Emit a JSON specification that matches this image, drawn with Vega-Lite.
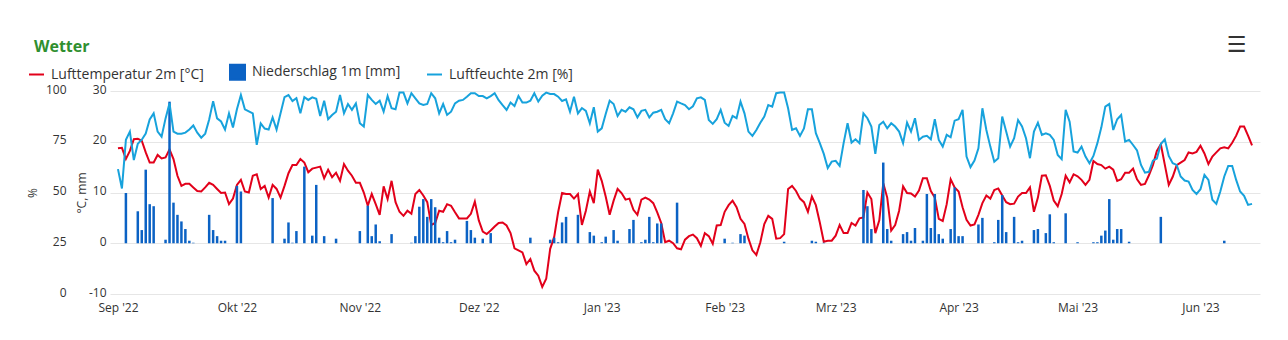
{
"$schema": "https://vega.github.io/schema/vega-lite/v6.json",
"width": 1150, "height": 203,
"autosize": {"type": "none"},
"padding": {"left": 110, "top": 91, "right": 28, "bottom": 46},
"background": "white",
"config": {"font": "Open Sans", "view": {"stroke": null}},
"title": {"text": "Wetter", "anchor": "start", "frame": "group", "dx": -76, "dy": 28, "offset": 6, "fontSize": 16, "fontWeight": "bold", "color": "#2f8f2f", "font": "Open Sans"},
"data": {"values": [
{"d":"2022-09-01","t":18.7,"h":61.5},{"d":"2022-09-02","t":18.8,"h":52},{"d":"2022-09-03","t":16.6,"h":76,"p":9.9},{"d":"2022-09-04","t":18.2,"h":80},{"d":"2022-09-05","t":20.5,"h":66},{"d":"2022-09-06","t":20.6,"h":74,"p":6.3},{"d":"2022-09-07","t":20.2,"h":76,"p":2.6},{"d":"2022-09-08","t":17.9,"h":79,"p":14.5},{"d":"2022-09-09","t":15.9,"h":86,"p":7.7},{"d":"2022-09-10","t":15.9,"h":89,"p":7.3},
{"d":"2022-09-11","t":17.4,"h":80},{"d":"2022-09-12","t":16.7,"h":77.5},{"d":"2022-09-13","t":16.9,"h":86.5,"p":0.7},{"d":"2022-09-14","t":18.5,"h":94,"p":27.9},{"d":"2022-09-15","t":16.6,"h":80,"p":8.0},{"d":"2022-09-16","t":13.3,"h":79,"p":5.6},{"d":"2022-09-17","t":11.3,"h":79,"p":4.3},{"d":"2022-09-18","t":11.7,"h":79.5,"p":2.8},{"d":"2022-09-19","t":11.7,"h":81,"p":0.5},{"d":"2022-09-20","t":11.0,"h":83,"p":0.1},
{"d":"2022-09-21","t":10.3,"h":79.5},{"d":"2022-09-22","t":10.2,"h":77},{"d":"2022-09-23","t":11.0,"h":79},{"d":"2022-09-24","t":11.9,"h":86,"p":5.6},{"d":"2022-09-25","t":11.5,"h":95,"p":2.6},{"d":"2022-09-26","t":10.7,"h":86.5,"p":1.4},{"d":"2022-09-27","t":9.9,"h":85,"p":0.5},{"d":"2022-09-28","t":10.0,"h":81,"p":0.5},{"d":"2022-09-29","t":7.7,"h":89},{"d":"2022-09-30","t":8.8,"h":82},
{"d":"2022-10-01","t":11.5,"h":91,"p":11.3},{"d":"2022-10-02","t":12.5,"h":98,"p":10.2},{"d":"2022-10-03","t":10.2,"h":91},{"d":"2022-10-04","t":10.0,"h":90},{"d":"2022-10-05","t":13.3,"h":89},{"d":"2022-10-06","t":13.6,"h":73.5},{"d":"2022-10-07","t":10.7,"h":84},{"d":"2022-10-08","t":11.3,"h":81.5},{"d":"2022-10-09","t":9.0,"h":81},{"d":"2022-10-10","t":11.5,"h":87,"p":8.9},
{"d":"2022-10-11","t":10.7,"h":81},{"d":"2022-10-12","t":9.0,"h":89},{"d":"2022-10-13","t":11.3,"h":97,"p":0.9},{"d":"2022-10-14","t":13.8,"h":98,"p":4.1},{"d":"2022-10-15","t":15.4,"h":95,"p":0.1},{"d":"2022-10-16","t":15.4,"h":96.5,"p":2.4},{"d":"2022-10-17","t":16.6,"h":89},{"d":"2022-10-18","t":15.9,"h":97,"p":15.1},{"d":"2022-10-19","t":14.0,"h":95.6},{"d":"2022-10-20","t":14.7,"h":96.9,"p":1.5},
{"d":"2022-10-21","t":14.9,"h":96.2,"p":11.5},{"d":"2022-10-22","t":15.1,"h":87.7},{"d":"2022-10-23","t":12.8,"h":95.2,"p":1.4},{"d":"2022-10-24","t":14.5,"h":86.1},{"d":"2022-10-25","t":13.0,"h":88.2},{"d":"2022-10-26","t":13.9,"h":89.8,"p":0.9},{"d":"2022-10-27","t":12.3,"h":98.0},{"d":"2022-10-28","t":15.6,"h":89.0},{"d":"2022-10-29","t":14.3,"h":93.6},{"d":"2022-10-30","t":13.3,"h":90.7},{"d":"2022-10-31","t":11.9,"h":93.9},
{"d":"2022-11-01","t":11.9,"h":84.1,"p":2.4},{"d":"2022-11-02","t":10.0,"h":82.5},{"d":"2022-11-03","t":7.4,"h":98.0,"p":7.4},{"d":"2022-11-04","t":9.7,"h":95.6,"p":1.4},{"d":"2022-11-05","t":7.7,"h":93.6,"p":3.7},{"d":"2022-11-06","t":5.6,"h":95.2,"p":0.4},{"d":"2022-11-07","t":11.2,"h":89.8},{"d":"2022-11-08","t":8.7,"h":97.5},{"d":"2022-11-09","t":12.3,"h":91.5,"p":1.8},{"d":"2022-11-10","t":8.1,"h":91.0},
{"d":"2022-11-11","t":6.2,"h":99.2},{"d":"2022-11-12","t":5.4,"h":99.2},{"d":"2022-11-13","t":6.4,"h":93.9},{"d":"2022-11-14","t":5.8,"h":98.9,"p":0.1},{"d":"2022-11-15","t":9.7,"h":96.4,"p":1.4},{"d":"2022-11-16","t":10.5,"h":93.9,"p":7.2},{"d":"2022-11-17","t":9.4,"h":93.1,"p":8.7},{"d":"2022-11-18","t":8.1,"h":93.6,"p":5.2},{"d":"2022-11-19","t":3.6,"h":98.9,"p":8.7},{"d":"2022-11-20","t":4.0,"h":96.4,"p":7.1},
{"d":"2022-11-21","t":6.4,"h":89.0,"p":1.1},{"d":"2022-11-22","t":6.2,"h":93.6,"p":0.2},{"d":"2022-11-23","t":7.7,"h":88.2,"p":2.4},{"d":"2022-11-24","t":7.4,"h":89.8,"p":0.2},{"d":"2022-11-25","t":6.1,"h":93.9,"p":0.7},{"d":"2022-11-26","t":4.9,"h":95.2},{"d":"2022-11-27","t":4.9,"h":95.6},{"d":"2022-11-28","t":4.9,"h":97.2,"p":4.4},{"d":"2022-11-29","t":5.8,"h":98.9,"p":2.6},{"d":"2022-11-30","t":8.2,"h":98.9,"p":1.1},
{"d":"2022-12-01","t":4.5,"h":97.5},{"d":"2022-12-02","t":2.3,"h":97.5,"p":0.9},{"d":"2022-12-03","t":1.8,"h":96.4},{"d":"2022-12-04","t":2.5,"h":97.5,"p":2.0},{"d":"2022-12-05","t":3.3,"h":98.9},{"d":"2022-12-06","t":4.0,"h":95.5},{"d":"2022-12-07","t":4.1,"h":93},{"d":"2022-12-08","t":3.5,"h":90.7},{"d":"2022-12-09","t":2.0,"h":94.3},{"d":"2022-12-10","t":-1.0,"h":92.6},
{"d":"2022-12-11","t":-1.4,"h":97.5},{"d":"2022-12-12","t":-1.8,"h":94.3},{"d":"2022-12-13","t":-4.1,"h":94.3},{"d":"2022-12-14","t":-3.1,"h":95.2,"p":1.1},{"d":"2022-12-15","t":-5.4,"h":98.9},{"d":"2022-12-16","t":-6.4,"h":94.8},{"d":"2022-12-17","t":-8.6,"h":97.7},{"d":"2022-12-18","t":-7.0,"h":99.2},{"d":"2022-12-19","t":-1.1,"h":98.5,"p":0.7},{"d":"2022-12-20","t":1.2,"h":98.5,"p":1.1},
{"d":"2022-12-21","t":6.1,"h":97.2,"p":0.2},{"d":"2022-12-22","t":9.9,"h":95.1,"p":4.1},{"d":"2022-12-23","t":9.7,"h":95.9,"p":5.2},{"d":"2022-12-24","t":9.7,"h":89.8},{"d":"2022-12-25","t":8.8,"h":97.2},{"d":"2022-12-26","t":9.7,"h":89.0,"p":5.6},{"d":"2022-12-27","t":3.6,"h":91.6},{"d":"2022-12-28","t":6.4,"h":90.2},{"d":"2022-12-29","t":10.2,"h":84.1,"p":2.2},{"d":"2022-12-30","t":7.9,"h":92.0,"p":1.5},{"d":"2022-12-31","t":14.5,"h":80.0},
{"d":"2023-01-01","t":12.3,"h":81.6,"p":0.2},{"d":"2023-01-02","t":9.2,"h":88.7,"p":1.3},{"d":"2023-01-03","t":5.6,"h":95.2},{"d":"2023-01-04","t":8.4,"h":93.6,"p":2.6},{"d":"2023-01-05","t":10.7,"h":87.7,"p":0.5},{"d":"2023-01-06","t":9.9,"h":90.7},{"d":"2023-01-07","t":8.6,"h":89.8},{"d":"2023-01-08","t":8.8,"h":92.0,"p":2.8},{"d":"2023-01-09","t":6.6,"h":91.0,"p":4.6},{"d":"2023-01-10","t":5.6,"h":87.0},
{"d":"2023-01-11","t":8.6,"h":90.2,"p":0.2},{"d":"2023-01-12","t":9.0,"h":90.7,"p":0.7},{"d":"2023-01-13","t":8.6,"h":87.0,"p":5.2},{"d":"2023-01-14","t":7.9,"h":89.3,"p":0.2},{"d":"2023-01-15","t":6.1,"h":89.8,"p":3.9},{"d":"2023-01-16","t":4.0,"h":90.7,"p":3.9},{"d":"2023-01-17","t":0.2,"h":86.1},{"d":"2023-01-18","t":0.5,"h":84.1},{"d":"2023-01-19","t":0.0,"h":89.0},{"d":"2023-01-20","t":-1.0,"h":94.8,"p":8.0},
{"d":"2023-01-21","t":-1.2,"h":93.9},{"d":"2023-01-22","t":0.7,"h":93.1},{"d":"2023-01-23","t":1.4,"h":91.0},{"d":"2023-01-24","t":1.7,"h":92.5},{"d":"2023-01-25","t":1.0,"h":96.4},{"d":"2023-01-26","t":-0.5,"h":96.9},{"d":"2023-01-27","t":2.0,"h":95.6},{"d":"2023-01-28","t":1.4,"h":85.7},{"d":"2023-01-29","t":-0.1,"h":83.8},{"d":"2023-01-30","t":3.5,"h":86.1},{"d":"2023-01-31","t":3.6,"h":90.7},
{"d":"2023-02-01","t":6.2,"h":84.4,"p":0.9},{"d":"2023-02-02","t":7.5,"h":82.8},{"d":"2023-02-03","t":8.4,"h":87.7,"p":0.1},{"d":"2023-02-04","t":7.1,"h":86.6},{"d":"2023-02-05","t":4.8,"h":94.8,"p":1.8},{"d":"2023-02-06","t":3.8,"h":89.0,"p":1.5},{"d":"2023-02-07","t":0.9,"h":80.0},{"d":"2023-02-08","t":-1.4,"h":77.9},{"d":"2023-02-09","t":-2.3,"h":80.8},{"d":"2023-02-10","t":0.2,"h":84.4},
{"d":"2023-02-11","t":3.8,"h":87.4},{"d":"2023-02-12","t":5.4,"h":93.1},{"d":"2023-02-13","t":4.8,"h":92.3},{"d":"2023-02-14","t":0.9,"h":98.9},{"d":"2023-02-15","t":1.0,"h":99.2},{"d":"2023-02-16","t":1.8,"h":99.2,"p":0.3},{"d":"2023-02-17","t":10.7,"h":91.5},{"d":"2023-02-18","t":11.3,"h":80.8},{"d":"2023-02-19","t":10.3,"h":81.6},{"d":"2023-02-20","t":8.8,"h":77.9},
{"d":"2023-02-21","t":8.1,"h":81.6},{"d":"2023-02-22","t":6.2,"h":91.0},{"d":"2023-02-23","t":9.2,"h":91.0,"p":0.5},{"d":"2023-02-24","t":7.5,"h":79.2,"p":0.3},{"d":"2023-02-25","t":4.1,"h":74.3},{"d":"2023-02-26","t":0.3,"h":69.0,"p":0.1},{"d":"2023-02-27","t":0.5,"h":62.0},{"d":"2023-02-28","t":0.5,"h":65.2},
{"d":"2023-03-01","t":1.5,"h":65.6},{"d":"2023-03-02","t":3.6,"h":63.1},{"d":"2023-03-03","t":2.0,"h":74.3},{"d":"2023-03-04","t":2.0,"h":84.1},{"d":"2023-03-05","t":4.0,"h":74.6},{"d":"2023-03-06","t":3.5,"h":76.2},{"d":"2023-03-07","t":4.9,"h":74.3},{"d":"2023-03-08","t":5.1,"h":89.0,"p":10.5},{"d":"2023-03-09","t":10.0,"h":86.6,"p":7.3},{"d":"2023-03-10","t":8.7,"h":82.5,"p":2.8},
{"d":"2023-03-11","t":2.0,"h":69.0},{"d":"2023-03-12","t":4.5,"h":83.3},{"d":"2023-03-13","t":11.8,"h":84.9,"p":15.9},{"d":"2023-03-14","t":9.0,"h":81.6,"p":2.8},{"d":"2023-03-15","t":2.5,"h":84.1,"p":0.5},{"d":"2023-03-16","t":3.6,"h":82.5},{"d":"2023-03-17","t":6.4,"h":80.0},{"d":"2023-03-18","t":11.2,"h":74.3,"p":1.8},{"d":"2023-03-19","t":9.9,"h":84.4,"p":2.2},{"d":"2023-03-20","t":9.8,"h":80.0,"p":0.5},
{"d":"2023-03-21","t":9.2,"h":86.6,"p":3.0},{"d":"2023-03-22","t":10.4,"h":75.9},{"d":"2023-03-23","t":12.8,"h":77.5,"p":0.5},{"d":"2023-03-24","t":12.8,"h":77.9,"p":9.7},{"d":"2023-03-25","t":10.3,"h":76.2,"p":3.0},{"d":"2023-03-26","t":9.0,"h":86.1,"p":9.7},{"d":"2023-03-27","t":4.8,"h":75.9,"p":1.8},{"d":"2023-03-28","t":4.4,"h":72.6,"p":0.9},{"d":"2023-03-29","t":7.7,"h":78.4},{"d":"2023-03-30","t":12.6,"h":77.2,"p":2.8},{"d":"2023-03-31","t":11.0,"h":85.4,"p":11.0},
{"d":"2023-04-01","t":10.2,"h":86.1,"p":1.4},{"d":"2023-04-02","t":7.1,"h":90.7,"p":1.4},{"d":"2023-04-03","t":4.6,"h":67.7},{"d":"2023-04-04","t":3.5,"h":62.5},{"d":"2023-04-05","t":3.7,"h":65.7},{"d":"2023-04-06","t":5.6,"h":71.8,"p":3.7},{"d":"2023-04-07","t":7.9,"h":91.5,"p":5.0},{"d":"2023-04-08","t":9.4,"h":80.8},{"d":"2023-04-09","t":8.8,"h":72.6},{"d":"2023-04-10","t":10.5,"h":65.2,"p":0.2},
{"d":"2023-04-11","t":10.8,"h":66.9,"p":4.6},{"d":"2023-04-12","t":9.4,"h":87.4,"p":9.5},{"d":"2023-04-13","t":8.1,"h":80.0,"p":2.2},{"d":"2023-04-14","t":7.7,"h":72.6},{"d":"2023-04-15","t":7.8,"h":76.7,"p":5.2},{"d":"2023-04-16","t":9.2,"h":85.7,"p":0.2},{"d":"2023-04-17","t":9.9,"h":82.5,"p":0.5},{"d":"2023-04-18","t":9.9,"h":76.7},{"d":"2023-04-19","t":11.0,"h":66.9},{"d":"2023-04-20","t":6.2,"h":80.0,"p":2.6},
{"d":"2023-04-21","t":9.0,"h":84.4,"p":2.8},{"d":"2023-04-22","t":13.3,"h":78.4},{"d":"2023-04-23","t":13.4,"h":79.2,"p":2.0},{"d":"2023-04-24","t":11.3,"h":78.4,"p":5.7},{"d":"2023-04-25","t":8.4,"h":75.9,"p":0.2},{"d":"2023-04-26","t":7.3,"h":68.5},{"d":"2023-04-27","t":9.7,"h":66.4},{"d":"2023-04-28","t":13.3,"h":90.7,"p":5.9},{"d":"2023-04-29","t":12.0,"h":84.9},{"d":"2023-04-30","t":13.6,"h":70.2},
{"d":"2023-05-01","t":13.2,"h":69.7,"p":0.2},{"d":"2023-05-02","t":12.5,"h":72.6},{"d":"2023-05-03","t":11.5,"h":67.7},{"d":"2023-05-04","t":12.5,"h":64.4},{"d":"2023-05-05","t":16.2,"h":68.0,"p":0.2},{"d":"2023-05-06","t":15.6,"h":74.3,"p":0.2},{"d":"2023-05-07","t":15.4,"h":82.1,"p":1.5},{"d":"2023-05-08","t":14.7,"h":92.3,"p":2.5},{"d":"2023-05-09","t":15.1,"h":93.6,"p":8.7},{"d":"2023-05-10","t":14.5,"h":80.8,"p":0.7},
{"d":"2023-05-11","t":12.3,"h":86.1,"p":2.8},{"d":"2023-05-12","t":12.6,"h":88.2,"p":2.8},{"d":"2023-05-13","t":13.9,"h":75.1},{"d":"2023-05-14","t":13.9,"h":75.9,"p":0.3},{"d":"2023-05-15","t":14.7,"h":73.4},{"d":"2023-05-16","t":12.6,"h":70.7},{"d":"2023-05-17","t":11.5,"h":63.6},{"d":"2023-05-18","t":11.7,"h":59.8},{"d":"2023-05-19","t":13.4,"h":60.2},{"d":"2023-05-20","t":15.4,"h":65.7},
{"d":"2023-05-21","t":18.2,"h":66.7},{"d":"2023-05-22","t":19.5,"h":73.9,"p":5.2},{"d":"2023-05-23","t":15.5,"h":76.2},{"d":"2023-05-24","t":11.5,"h":68.0},{"d":"2023-05-25","t":13.1,"h":64.4},{"d":"2023-05-26","t":15.4,"h":63.6},{"d":"2023-05-27","t":15.9,"h":57.9},{"d":"2023-05-28","t":16.4,"h":55.9},{"d":"2023-05-29","t":17.9,"h":55.4},{"d":"2023-05-30","t":17.7,"h":51.3},{"d":"2023-05-31","t":18.0,"h":49.3},
{"d":"2023-06-01","t":19.2,"h":51.6},{"d":"2023-06-02","t":17.7,"h":58.7},{"d":"2023-06-03","t":15.6,"h":56.2},{"d":"2023-06-04","t":17.1,"h":46.4},{"d":"2023-06-05","t":17.9,"h":44.4},{"d":"2023-06-06","t":18.7,"h":50.5},{"d":"2023-06-07","t":18.9,"h":57.9,"p":0.5},{"d":"2023-06-08","t":18.7,"h":63.1},{"d":"2023-06-09","t":19.8,"h":63.1},{"d":"2023-06-10","t":21.2,"h":56.2},
{"d":"2023-06-11","t":23.0,"h":50.5},{"d":"2023-06-12","t":23.0,"h":48.4},{"d":"2023-06-13","t":21.2,"h":43.9},{"d":"2023-06-14","t":19.3,"h":44.4}
]},
"layer": [
 {"layer": [
  {"mark": {"type": "line", "strokeWidth": 2, "interpolate": "linear"},
   "encoding": {
    "x": {"field": "d", "type": "temporal",
      "scale": {"type": "utc", "domain": [{"year": 2022, "month": 8, "date": 31, "hours": 6, "utc": true}, {"year": 2023, "month": 6, "date": 14, "hours": 18, "utc": true}]},
      "axis": {"orient": "bottom", "title": null, "grid": false, "domain": false, "ticks": false, "labelPadding": 8, "labelFontSize": 12, "labelColor": "#333333", "labelFont": "Open Sans", "labelFlush": false, "labelOverlap": false,
        "values": [{"year":2022,"month":9,"date":1,"utc":true},{"year":2022,"month":10,"date":1,"utc":true},{"year":2022,"month":11,"date":1,"utc":true},{"year":2022,"month":12,"date":1,"utc":true},{"year":2023,"month":1,"date":1,"utc":true},{"year":2023,"month":2,"date":1,"utc":true},{"year":2023,"month":3,"date":1,"utc":true},{"year":2023,"month":4,"date":1,"utc":true},{"year":2023,"month":5,"date":1,"utc":true},{"year":2023,"month":6,"date":1,"utc":true}],
        "labelExpr": "['Jan','Feb','Mrz','Apr','Mai','Jun','Jul','Aug','Sep','Okt','Nov','Dez'][utcmonth(datum.value)] + \" '\" + utcFormat(datum.value, '%y')"}},
    "y": {"field": "t", "type": "quantitative", "scale": {"domain": [-10, 30], "nice": false, "zero": false},
      "axis": {"orient": "left", "values": [-10, 0, 10, 20, 30], "labelExpr": "datum.value < 0 ? '-' + abs(datum.value) : '' + datum.value", "labelOffset": -2, "grid": true, "gridColor": "#e6e6e6", "gridWidth": 1, "domain": false, "ticks": false, "labelPadding": 4, "labelFontSize": 12, "labelColor": "#333333", "labelFont": "Open Sans", "title": "°C, mm", "titleFont": "Open Sans", "titleFontSize": 12, "titleFontWeight": "normal", "titleColor": "#333333", "titlePadding": 0}},
    "color": {"datum": "Lufttemperatur 2m [°C]", "type": "nominal",
      "scale": {"domain": ["Lufttemperatur 2m [°C]", "Niederschlag 1m [mm]", "Luftfeuchte 2m [%]"], "range": ["#e2001a", "#0b62c4", "#17a2dc"]},
      "legend": {"orient": "none", "legendX": -82, "legendY": -27, "direction": "horizontal", "title": null, "padding": 0, "labelFont": "Open Sans", "labelFontSize": 14, "labelColor": "#333333", "symbolType": "stroke", "symbolSize": 225, "symbolStrokeWidth": 2, "columnPadding": 22, "labelOffset": 6,
        "encode": {
          "symbols": {"update": {
            "y": {"value": 8},
            "shape": {"signal": "datum.value == 'Niederschlag 1m [mm]' ? 'square' : 'stroke'"},
            "fill": {"signal": "datum.value == 'Niederschlag 1m [mm]' ? '#0b62c4' : 'transparent'"},
            "stroke": {"signal": "datum.value == 'Niederschlag 1m [mm]' ? 'transparent' : (datum.value == 'Lufttemperatur 2m [°C]' ? '#e2001a' : '#17a2dc')"},
            "strokeWidth": {"value": 2}, "opacity": {"value": 1}}},
          "labels": {"update": {"y": {"value": 8}, "baseline": {"value": "middle"}}}}}}
   }},
  {"mark": {"type": "bar", "size": 2.5},
   "encoding": {
    "x": {"field": "d", "type": "temporal"},
    "y": {"field": "p", "type": "quantitative",
      "axis": {"orient": "left", "values": [-10, 0, 10, 20, 30], "labelExpr": "datum.value < 0 ? '-' + abs(datum.value) : '' + datum.value", "labelOffset": -2, "grid": true, "gridColor": "#e6e6e6", "gridWidth": 1, "domain": false, "ticks": false, "labelPadding": 4, "labelFontSize": 12, "labelColor": "#333333", "labelFont": "Open Sans", "title": "°C, mm", "titleFont": "Open Sans", "titleFontSize": 12, "titleFontWeight": "normal", "titleColor": "#333333", "titlePadding": 0}},
    "color": {"datum": "Niederschlag 1m [mm]", "type": "nominal"}
   }}
 ]},
 {"mark": {"type": "line", "strokeWidth": 2, "interpolate": "linear"},
  "encoding": {
   "x": {"field": "d", "type": "temporal",
     "axis": {"orient": "top", "labels": false, "ticks": false, "domain": false, "grid": false, "title": "☰", "titleFont": "DejaVu Sans", "titleFontSize": 22, "titleFontWeight": "bold", "titleColor": "#333333", "titleX": 1126, "titleY": -47, "titleAlign": "center", "titleBaseline": "middle", "titleAngle": 0}},
   "y": {"field": "h", "type": "quantitative", "scale": {"domain": [0, 100], "nice": false, "zero": false},
     "axis": {"orient": "left", "offset": 40, "values": [0, 25, 50, 75, 100], "labelOffset": -2, "grid": false, "domain": false, "ticks": false, "labelPadding": 4, "labelFontSize": 12, "labelColor": "#333333", "labelFont": "Open Sans", "title": "%", "titleFont": "Open Sans", "titleFontSize": 12, "titleFontWeight": "normal", "titleColor": "#333333", "titlePadding": 6}},
   "color": {"datum": "Luftfeuchte 2m [%]", "type": "nominal"}
  }}
],
"resolve": {"scale": {"y": "independent"}, "axis": {"x": "independent"}}
}
